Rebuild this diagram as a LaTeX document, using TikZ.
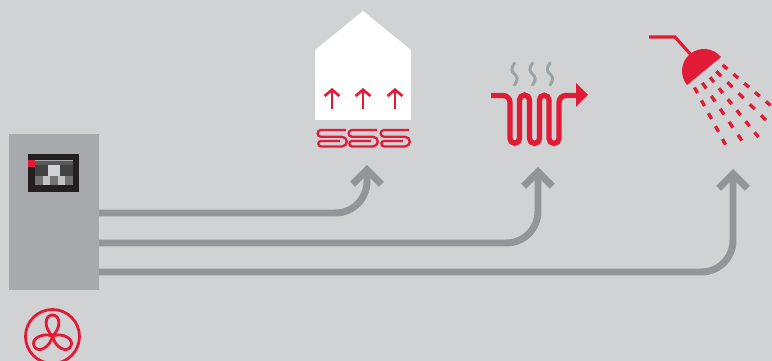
\documentclass[tikz,border=0pt]{standalone}
\usepackage{tikz}
\usetikzlibrary{arrows.meta}
\definecolor{bggray}{HTML}{D1D2D4}
\definecolor{panelgray}{HTML}{A7A9AC}
\definecolor{pipegray}{HTML}{939598}
\definecolor{steamgray}{HTML}{9AA3A8}
\definecolor{screenblack}{HTML}{231F20}
\definecolor{myred}{HTML}{E11B35}
\tikzset{
  pipe/.style={draw=pipegray,line width=3.97pt,rounded corners=18pt,
    -{Straight Barb[length=8.2pt,width=16.4pt]}},
  coil/.style={draw=myred,line width=1.3pt},
  heatup/.style={draw=myred,line width=1.5pt,-{Straight Barb[length=3.6pt,width=8.5pt]}},
  radpipe/.style={draw=myred,line width=3pt},
  steam/.style={draw=steamgray,line width=1.7pt,line cap=round},
  fanline/.style={draw=myred,line width=1.6pt},
  drop/.style={draw=myred,line width=1.9pt}
}
\begin{document}
\begin{tikzpicture}[x=0.02cm,y=-0.02cm]
  \clip (0,0) rectangle (772,361);
  \fill[bggray] (0,0) rectangle (772,361);
  % Control unit
  \fill[panelgray] (9,134) rectangle (99,290);
  \fill[screenblack] (28,154) rectangle (79,192);
  \fill[myred] (28,160) rectangle (35,167);
  \fill[panelgray] (35,160) rectangle (73,161);
  \fill[black!65] (35,161) rectangle (73,165);
  \fill[black!74] (35,165) rectangle (73,176);
  \fill[bggray] (48,165) rectangle (60,176);
  \foreach \x/\c in {35/black!55,42.7/panelgray!70,50/black!55,58/panelgray!70,65/black!55}
    \fill[\c] (\x,176) rectangle ++(7.9,9);
  % Fan
  \draw[fanline] (52.5,336.5) circle (27);
  \foreach \a in {0,120,240}
    \draw[fanline,shift={(52.5,336)},rotate=\a]
      (0,0) .. controls (-9,-8) and (-8,-21) .. (0,-21) .. controls (8,-21) and (9,-8) .. (0,0);
  % House
  \fill[white] (315,50) -- (363,11) -- (411,50) -- (411,120) -- (315,120) -- cycle;
  \foreach \x in {332,363,395}
    \draw[heatup] (\x,109) -- (\x,88);
  \foreach \x in {346,377,409}
    \draw[coil] (\x,130) -- (\x-25,130) arc[start angle=270,end angle=90,radius=3.4]
      -- (\x-4,136.8) arc[start angle=-90,end angle=90,radius=4.8]
      -- (\x-25,146.4) arc[start angle=90,end angle=270,radius=2.7] -- (\x-6,141);
  % Radiator
  \draw[radpipe] (491,95.5) -- (503,95.5) arc[start angle=270,end angle=360,radius=7]
    -- (510,138.5) arc[start angle=180,end angle=0,radius=4.75]
    -- (519.5,100) arc[start angle=180,end angle=360,radius=5]
    -- (529.5,138.5) arc[start angle=180,end angle=0,radius=5]
    -- (539.5,100) arc[start angle=180,end angle=360,radius=4.75]
    -- (549,138.5) arc[start angle=180,end angle=0,radius=5]
    -- (559,102.5) arc[start angle=180,end angle=270,radius=7] -- (577,95.5);
  \fill[myred] (576,83) -- (588,95) -- (576,107) -- cycle;
  \foreach \x in {514.5,532.5,550}
    \draw[steam] (\x,63) .. controls (\x-4,69) and (\x-3,71) .. (\x,74)
      .. controls (\x+3,77) and (\x+4,79) .. (\x,85);
  % Shower
  \draw[myred,line width=1.8pt] (649,37) -- (675,37) -- (692,56);
  \fill[myred] (721,57) arc[start angle=-39.5,end angle=-219.5,radius=22] -- cycle;
  \foreach \sx/\sy/\dx/\dy/\n in {725/67/10.8/9.1/4,718.7/73.7/11.2/11/4,712/79.7/8.9/11/5,704.3/85.7/8.9/13/4,696/90.3/7/12.9/4}
    \foreach \i in {0,...,\n}
      \draw[drop] ({\sx+\i*\dx-0.22*\dx},{\sy+\i*\dy-0.22*\dy}) -- ({\sx+\i*\dx+0.22*\dx},{\sy+\i*\dy+0.22*\dy});
  % Supply lines
  \coordinate (heatout) at (99,213);
  \coordinate (radout) at (99,243);
  \coordinate (showerout) at (99,272);
  \coordinate (heattip) at (367,165);
  \coordinate (radtip) at (538,167);
  \coordinate (showertip) at (733,169);
  \draw[pipe] (heatout) -| (heattip);
  \draw[pipe] (radout) -| (radtip);
  \draw[pipe] (showerout) -| (showertip);
\end{tikzpicture}
\end{document}
